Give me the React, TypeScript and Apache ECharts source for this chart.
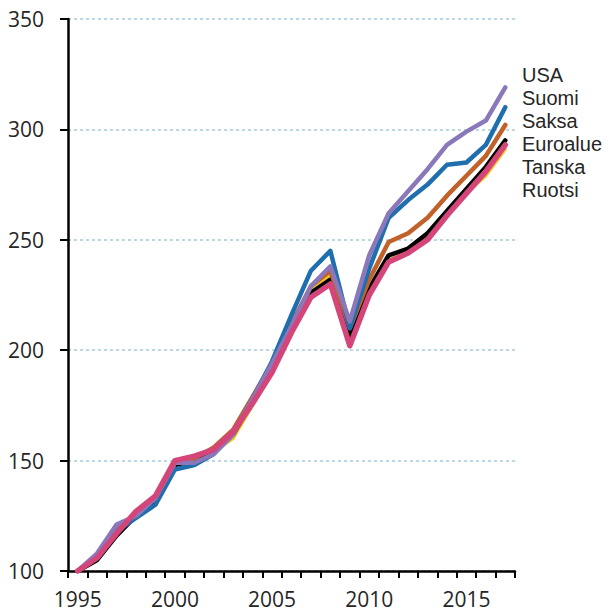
import React, { useEffect, useRef } from "react";
import * as echarts from "echarts";

const years = ["1995","1996","1997","1998","1999","2000","2001","2002","2003","2004","2005","2006","2007","2008","2009","2010","2011","2012","2013","2014","2015","2016","2017"];

const usa = [100, 108, 121, 125, 133, 149, 149, 153, 162, 178, 194, 211, 229, 238, 213, 243, 262, 272, 282, 293, 299, 304, 319];
const suomi = [100, 107, 118, 124, 130, 146, 148, 153, 162, 178, 195, 216, 236, 245, 210, 237, 260, 268, 275, 284, 285, 293, 310];
const saksa = [100, 107, 119, 126, 133, 149, 151, 156, 164, 179, 194, 212, 229, 236, 210, 232, 249, 253, 260, 270, 279, 288, 302];
const euroalue = [100, 105, 116, 125, 132, 148, 150, 155, 162, 177, 192, 210, 226, 232, 206, 228, 243, 246, 253, 263, 273, 283, 295];
const tanska = [100, 106, 117, 125, 132, 147, 149, 154, 160, 175, 191, 210, 227, 234, 207, 227, 241, 245, 251, 262, 271, 279, 291];
const ruotsi = [100, 106, 117, 127, 134, 150, 152, 155, 163, 176, 190, 208, 224, 230, 202, 225, 240, 244, 250, 261, 271, 281, 293];

const labelNames = ["USA", "Suomi", "Saksa", "Euroalue", "Tanska", "Ruotsi"];

export default function App() {
  const ref = useRef<HTMLDivElement>(null);
  useEffect(() => {
    if (!ref.current) return;
    const chart = echarts.init(ref.current, null, { renderer: "svg" });
    const mk = (name: string, data: number[], color: string, width: number) => ({
      name,
      type: "line",
      data,
      symbol: "none",
      lineStyle: { color, width, join: "round", cap: "round" },
      itemStyle: { color },
    });
    chart.setOption({
      animation: false,
      textStyle: { fontFamily: "Open Sans" },
      grid: { left: 68, right: 97, top: 19, bottom: 43, containLabel: false },
      xAxis: {
        type: "category",
        data: years,
        boundaryGap: true,
        axisLine: { show: true, lineStyle: { color: "#000", width: 2.5 } },
        axisTick: { show: true, interval: 0, length: 7, lineStyle: { color: "#000", width: 2 } },
        axisLabel: { interval: 4, color: "#262626", fontSize: 21, margin: 17, fontFamily: "Open Sans" },
        splitLine: { show: false },
      },
      yAxis: {
        type: "value",
        min: 100,
        max: 350,
        interval: 50,
        axisLine: { show: true, lineStyle: { color: "#000", width: 2.5 } },
        axisTick: { show: true, length: 8, lineStyle: { color: "#000", width: 2 } },
        axisLabel: { color: "#262626", fontSize: 21, margin: 24, fontFamily: "Open Sans" },
        splitLine: { show: true, lineStyle: { color: "#bcd8e4", width: 2, type: [3, 3] } },
      },
      series: [
        mk("Tanska", tanska, "#f2c318", 3),
        mk("Euroalue", euroalue, "#000000", 4.5),
        mk("Saksa", saksa, "#c0622a", 4.5),
        mk("Suomi", suomi, "#1f6ead", 4.5),
        mk("USA", usa, "#8b78ba", 4.5),
        mk("Ruotsi", ruotsi, "#d4467a", 5.5),
      ],
      graphic: labelNames.map((t, i) => ({
        type: "text",
        left: 522,
        top: 64 + i * 23.1,
        style: { text: t, fill: "#262626", fontSize: 20, lineHeight: 21, fontFamily: "Liberation Sans" },
      })),
    });
    return () => chart.dispose();
  }, []);
  return <div ref={ref} style={{ position: "absolute", left: 0, top: 0, width: 612, height: 614 }} />;
}
